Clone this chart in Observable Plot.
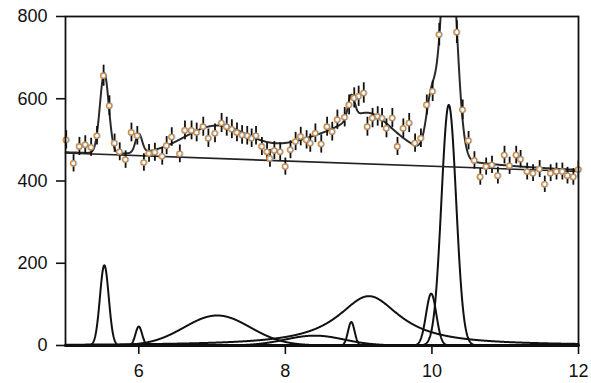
<!DOCTYPE html>
<html>
<head>
<meta charset="utf-8">
<script src="https://cdn.jsdelivr.net/npm/d3@7"></script>
<script src="https://cdn.jsdelivr.net/npm/@observablehq/plot@0.6"></script>
<style>
  body { margin: 0; background: #fff; }
  svg { display: block; }
</style>
</head>
<body>
<div id="chart"></div>
<script>
// Measured spectrum: position and counts
const energy = [
  5.01, 5.11, 5.19, 5.27, 5.35, 5.43, 5.52, 5.60, 5.67, 5.74,
  5.82, 5.90, 5.98, 6.07, 6.14, 6.22, 6.32, 6.38, 6.45, 6.56,
  6.63, 6.72, 6.79, 6.88, 6.95, 7.04, 7.13, 7.20, 7.27, 7.34,
  7.41, 7.48, 7.54, 7.60, 7.68, 7.75, 7.79, 7.85, 7.93, 8.00,
  8.07, 8.14, 8.21, 8.29, 8.34, 8.41, 8.49, 8.57, 8.64, 8.71,
  8.81, 8.87, 8.94, 9.00, 9.07, 9.12, 9.19, 9.26, 9.32, 9.38,
  9.46, 9.53, 9.61, 9.69, 9.77, 9.85, 9.93, 10.01, 10.10, 10.34,
  10.42, 10.50, 10.58, 10.66, 10.74, 10.82, 10.90, 10.99, 11.06, 11.15,
  11.21, 11.30, 11.38, 11.47, 11.54, 11.62, 11.70, 11.78, 11.85, 11.93,
  12.00
];
const counts = [
  500, 443, 484, 488, 482, 510, 656, 583, 492, 471,
  452, 518, 510, 445, 467, 470, 460, 486, 507, 466,
  523, 523, 518, 532, 504, 516, 541, 532, 526, 518,
  512, 510, 504, 510, 484, 471, 455, 474, 471, 435,
  476, 496, 508, 500, 492, 516, 490, 532, 520, 549,
  555, 585, 602, 606, 614, 532, 553, 557, 553, 528,
  553, 484, 528, 541, 492, 504, 585, 618, 756, 762,
  573, 498, 450, 410, 435, 439, 413, 463, 437, 463,
  453, 423, 419, 429, 392, 419, 423, 423, 413, 410,
  428
];

// Linear background (end points)
const bgX = [5, 12];
const bgY = [468, 423];

// Fitted peak components: centre, height, width, line shape
const peakCenter = [5.53, 6.00, 7.07, 8.40, 8.90, 9.14, 9.99, 10.23];
const peakHeight = [195, 46, 73, 24, 57, 120, 126, 585];
const peakWidth  = [0.06, 0.045, 0.45, 0.40, 0.045, 0.52, 0.07, 0.10];
const peakShape  = ["gauss", "gauss", "gauss", "gauss", "gauss", "lorentz", "gauss", "gauss"];

// Axis ticks
const xTicks = [6, 8, 10, 12];
const yTicks = [0, 200, 400, 600, 800];

// ---- build tables ----
const points = energy.map((x, i) => ({x, y: counts[i], err: Math.sqrt(counts[i])}));

function profile(k, x) {
  const d = x - peakCenter[k], w = peakWidth[k];
  return peakShape[k] === "lorentz"
    ? peakHeight[k] / (1 + (d / w) ** 2)
    : peakHeight[k] * Math.exp(-(d * d) / (2 * w * w));
}
function background(x) {
  return bgY[0] + (bgY[1] - bgY[0]) * (x - bgX[0]) / (bgX[1] - bgX[0]);
}

const grid = d3.range(bgX[0], bgX[1] + 1e-9, 0.004);
const components = [];
peakCenter.forEach((c, k) => grid.forEach(x => components.push({peak: k, x, y: profile(k, x)})));
const fit = grid.map(x => ({x, y: background(x) + peakCenter.reduce((s, c, k) => s + profile(k, x), 0)}));
const bg = bgX.map((x, i) => ({x, y: bgY[i]}));

const font = "'Liberation Sans', Arial, Helvetica, sans-serif";

const chart = Plot.plot({
  width: 591,
  height: 383,
  marginLeft: 65,
  marginRight: 13,
  marginTop: 16,
  marginBottom: 38,
  style: {fontFamily: font, background: "#fff", color: "#111"},
  x: {domain: [5, 12]},
  y: {domain: [0, 800]},
  marks: [
    Plot.line(components, {x: "x", y: "y", z: "peak", stroke: "#111", strokeWidth: 2}),
    Plot.line(bg, {x: "x", y: "y", stroke: "#222", strokeWidth: 1.6}),
    Plot.line(fit, {x: "x", y: "y", stroke: "#2a2a2a", strokeWidth: 2, clip: true}),
    Plot.ruleX(points, {x: "x", y1: d => d.y - d.err, y2: d => d.y + d.err, stroke: "#111", strokeWidth: 1.8, clip: true}),
    Plot.dot(points, {x: "x", y: "y", r: 2.7, fill: "#fff", stroke: "#e08a30", strokeWidth: 1.3, dx: -0.4}),
    Plot.dot(points, {x: "x", y: "y", r: 2.7, fill: "none", stroke: "#3f8fe0", strokeWidth: 0.8, strokeOpacity: 0.55, dx: 0.7}),
    Plot.frame({stroke: "#111", strokeWidth: 1.8}),
    Plot.axisY({ticks: yTicks, tickFormat: d => String(d), tickSize: 9, tickPadding: 9, fontSize: 18, strokeWidth: 1.6, label: null}),
    Plot.axisX({ticks: xTicks, tickFormat: d => String(d), tickSize: 9, tickPadding: 10, fontSize: 18, strokeWidth: 1.6, label: null}),
    Plot.ruleY([0], {stroke: "#111", strokeWidth: 2.4})
  ]
});

document.getElementById("chart").append(chart);
</script>
</body>
</html>
